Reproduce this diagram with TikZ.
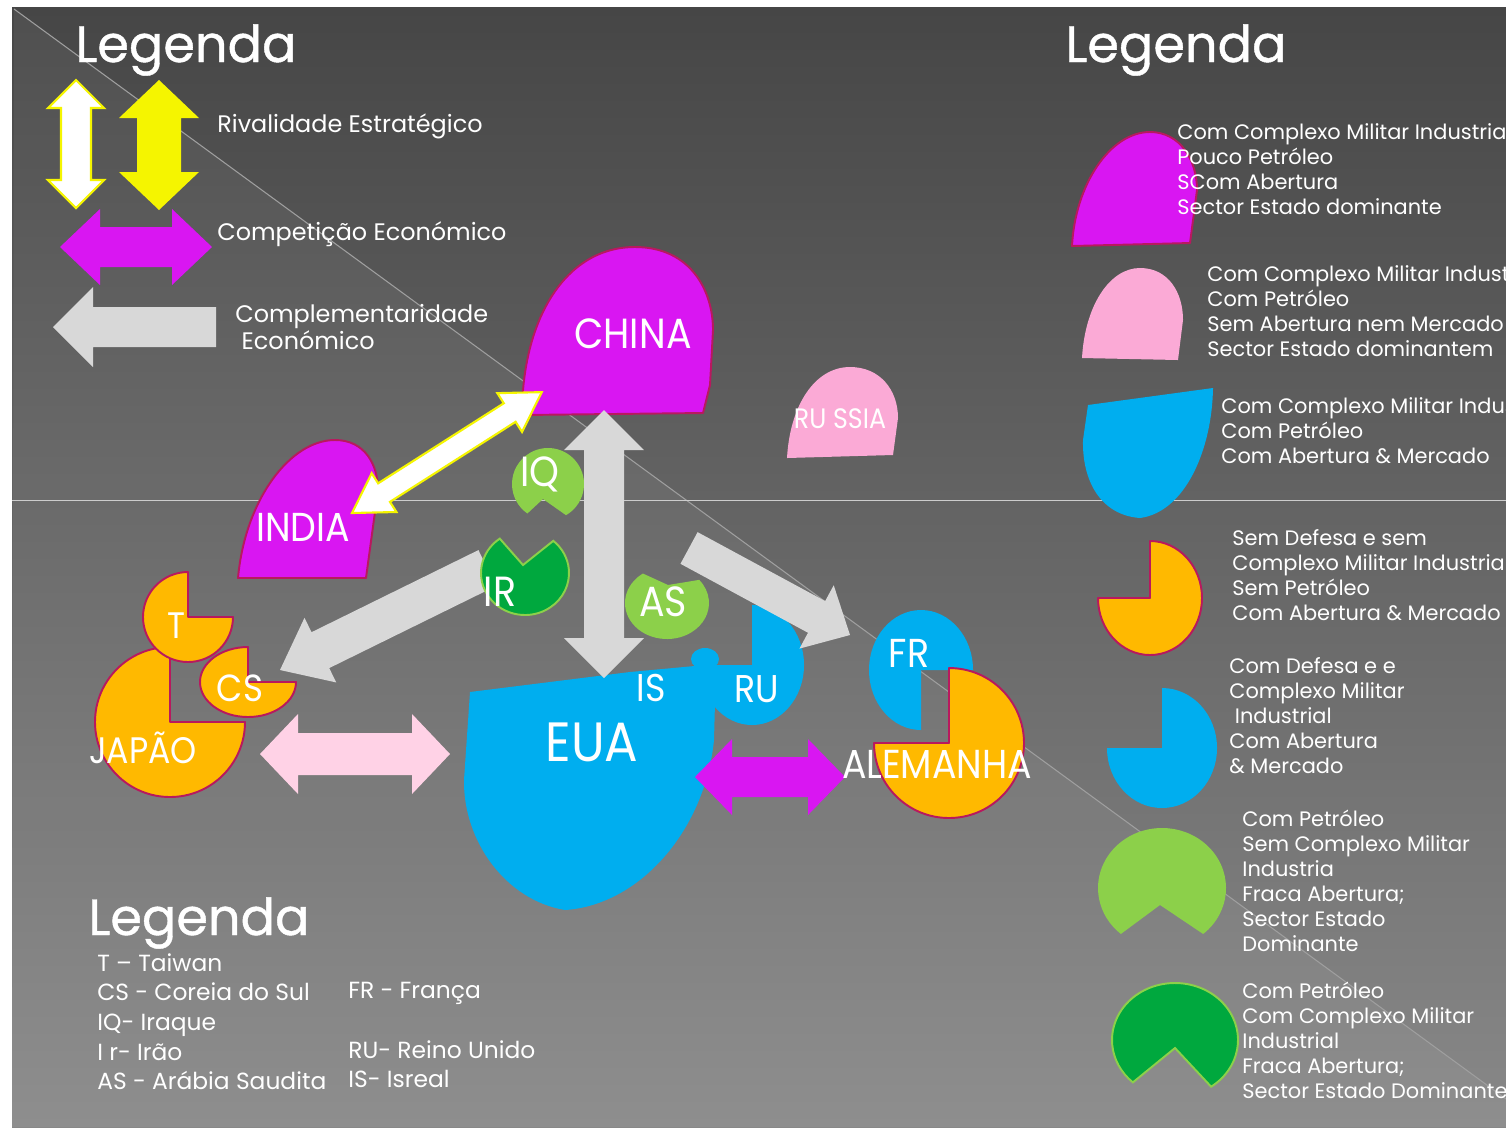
\documentclass[tikz,border=0pt]{standalone}
\usepackage{fontspec}
\setmainfont{Poppins}
\newfontfamily\lblfont[FakeStretch=0.9]{Poppins}
\newfontfamily\titlefont[FakeBold=0.8]{Poppins}
\usetikzlibrary{positioning}
\definecolor{bgtop}{HTML}{464646}
\definecolor{bgbot}{HTML}{888888}
\definecolor{mag}{HTML}{D916F2}
\definecolor{rim}{HTML}{B8195E}
\definecolor{rosa}{HTML}{FBAAD6}
\definecolor{azul}{HTML}{00AEEF}
\definecolor{laranja}{HTML}{FFB900}
\definecolor{verde}{HTML}{8CD04A}
\definecolor{verdesc}{HTML}{00A83E}
\definecolor{amarelo}{HTML}{F5F500}
\definecolor{cinza}{HTML}{D8D8D8}
\definecolor{rosaclaro}{HTML}{FFD2E6}
% block arrows: length, head length, half shaft, half head
\newcommand{\dupla}[4]{(0,0) -- (#2,#4) -- (#2,#3) -- ({#1-#2},#3) -- ({#1-#2},#4) -- (#1,0) -- ({#1-#2},-#4) -- ({#1-#2},-#3) -- (#2,-#3) -- (#2,-#4) -- cycle}
\newcommand{\simples}[4]{(0,0) -- (#2,#4) -- (#2,#3) -- (#1,#3) -- (#1,-#3) -- (#2,-#3) -- (#2,-#4) -- cycle}
\tikzset{
  pais/.style={fill=#1, draw=rim, line width=1.1pt, line join=round},
  liso/.style={fill=#1},
  titulo/.style={text=white, font=\titlefont\fontsize{29}{29}\selectfont, anchor=base west, inner sep=0},
  legtxt/.style={text=white, font=\fontsize{13.6}{15}\selectfont, anchor=base west, inner sep=0, align=left},
  chave/.style={text=white, font=\fontsize{11.9}{14.2}\selectfont, anchor=north west, inner sep=0, align=left},
  sigla/.style={text=white, font=\fontsize{13.3}{16.9}\selectfont, anchor=north west, inner sep=0, align=left},
  nome/.style={text=white, font=\lblfont\fontsize{#1}{#1}\selectfont, anchor=base, inner sep=0},
}
\begin{document}
\begin{tikzpicture}[x=0.02cm, y=0.02cm]
\useasboundingbox (0,0) rectangle (1506,-1127);
\clip (0,0) rectangle (1506,-1127);
\fill[white] (0,0) rectangle (1506,-1127);
\shade[top color=bgtop, bottom color=bgbot] (12,-7) rectangle (1506,-1127);
\fill[white, opacity=0.05] (14,-9) -- (1506,-1099) -- (1506,-1127) -- (12,-1127) -- cycle;
\draw[gray!75, line width=0.6pt] (14,-9) -- (1506,-1099);
\draw[gray!40!white, line width=0.5pt] (12,-500) -- (1506,-500);

% legenda das setas
\filldraw[fill=white, draw=amarelo, line width=1.2pt, shift={(76,-208)}, rotate=90] \dupla{128}{28}{15}{28};
\fill[amarelo, shift={(159,-210)}, rotate=90] \dupla{130}{38}{22}{40};
\fill[mag, shift={(60,-247)}] \dupla{152}{40}{20}{38};
\fill[cinza, shift={(53,-327)}] \simples{163}{40}{20}{40};
\node[titulo] (leg1) at (75,-62) {Legenda};
\node[legtxt] (rival) at (217,-132) {Rivalidade Estratégico};
\node[legtxt] (compet) at (217,-240) {Competição Económico};
\node[legtxt] (compl) at (235,-349) {Complementaridade\\\ Económico};

% legenda dos paises
\node[titulo] (leg2) at (1065,-62) {Legenda};
\filldraw[pais=mag] (1072,-246) .. controls (1075,-185) and (1110,-132) .. (1150,-132) .. controls (1180,-132) and (1197,-160) .. (1197,-190) -- (1190,-243) -- cycle;
\fill[liso=rosa] (1082,-358) .. controls (1085,-305) and (1110,-268) .. (1140,-268) .. controls (1168,-268) and (1183,-292) .. (1183,-320) -- (1178,-360) -- cycle;
\fill[liso=azul] (1088,-405) -- (1213,-388) .. controls (1212,-450) and (1185,-512) .. (1140,-518) .. controls (1100,-515) and (1082,-480) .. (1083,-440) -- cycle;
\filldraw[pais=laranja] (1150,-598) -- ++(180:52 and 57) arc[start angle=180, end angle=450, x radius=52, y radius=57] -- cycle;
\fill[liso=azul] (1162,-748) -- ++(180:55 and 60) arc[start angle=180, end angle=450, x radius=55, y radius=60] -- cycle;
\fill[liso=verde] (1162,-888) ++(310:64 and 60) arc[start angle=310, end angle=590, x radius=64, y radius=60] -- (1160,-905) -- cycle;
\filldraw[fill=verdesc, draw=verde, line width=1.1pt] (1175,-1040) ++(305:63 and 57) arc[start angle=305, end angle=588, x radius=63, y radius=57] -- (1175,-1048) -- cycle;
\node[chave] (k1) at (1177,-123) {Com Complexo Militar Industrial\\Pouco Petróleo\\SCom Abertura\\Sector Estado dominante};
\node[chave] (k2) at (1207,-265) {Com Complexo Militar Industrial\\Com Petróleo\\Sem Abertura nem Mercado\\Sector Estado dominantem};
\node[chave] (k3) at (1221,-397) {Com Complexo Militar Industrial\\Com Petróleo\\Com Abertura \& Mercado};
\node[chave] (k4) at (1232,-529) {Sem Defesa e sem\\Complexo Militar Industrial\\Sem Petróleo\\Com Abertura \& Mercado};
\node[chave] (k5) at (1229,-657) {Com Defesa e e\\Complexo Militar\\\ Industrial\\Com Abertura\\\& Mercado};
\node[chave] (k6) at (1242,-810) {Com Petróleo\\Sem Complexo Militar\\Industria\\Fraca Abertura;\\Sector Estado\\Dominante};
\node[chave] (k7) at (1242,-982) {Com Petróleo\\Com Complexo Militar\\Industrial\\Fraca Abertura;\\Sector Estado Dominante};

% siglas
\node[titulo] (leg3) at (88,-935) {Legenda};
\node[sigla] (s1) at (97,-953) {T – Taiwan\\CS - Coreia do Sul\\IQ- Iraque\\I r- Irão\\AS - Arábia Saudita};
\node[sigla] (s2) at (348,-982) {FR - França\\\mbox{}\\RU- Reino Unido\\IS- Isreal};

% mapa
\fill[cinza, shift={(280,-670)}, rotate=26.2] \simples{231}{45}{20}{36};
\filldraw[pais=mag] (522,-415) .. controls (522,-320) and (565,-247) .. (635,-247) .. controls (690,-247) and (713,-290) .. (713,-330) -- (710,-385) -- (703,-413) -- cycle;
\filldraw[pais=mag] (238,-578) .. controls (245,-500) and (290,-440) .. (335,-440) .. controls (365,-440) and (378,-465) .. (378,-490) -- (366,-578) -- cycle;
\fill[liso=rosa] (787,-458) .. controls (790,-405) and (815,-367) .. (850,-367) .. controls (880,-367) and (898,-390) .. (898,-418) -- (893,-455) -- cycle;
\fill[liso=verde] (548,-484) ++(300:36) arc[start angle=300, end angle=595, radius=36] -- (543,-499) -- cycle;
\filldraw[fill=verdesc, draw=verde, line width=1.1pt] (525,-573) ++(125:44 and 42) arc[start angle=125, end angle=410, x radius=44, y radius=42] -- (523,-565) -- cycle;
\fill[liso=verde] (667,-603) ++(125:42 and 36) arc[start angle=125, end angle=400, x radius=42, y radius=36] -- (668,-585) -- cycle;
\fill[liso=azul] (470,-692) -- (630,-672) -- (716,-664) -- (714,-740) .. controls (705,-830) and (640,-905) .. (565,-910) .. controls (505,-900) and (463,-840) .. (464,-780) -- cycle;
\fill[liso=azul] (705,-659) ellipse[x radius=14, y radius=11];
\fill[liso=azul] (752,-665) -- ++(180:52 and 60) arc[start angle=180, end angle=450, x radius=52, y radius=60] -- cycle;
\fill[liso=azul] (921,-670) -- ++(0:52 and 60) arc[start angle=0, end angle=270, x radius=52, y radius=60] -- cycle;
\filldraw[pais=laranja] (949,-743) -- ++(180:75) arc[start angle=180, end angle=450, radius=75] -- cycle;
\filldraw[pais=laranja] (170,-722) -- ++(90:75) arc[start angle=90, end angle=360, radius=75] -- cycle;
\filldraw[pais=laranja] (188,-617) -- ++(90:45) arc[start angle=90, end angle=360, radius=45] -- cycle;
\filldraw[pais=laranja] (248,-682) -- ++(90:48 and 35) arc[start angle=90, end angle=360, x radius=48, y radius=35] -- cycle;

% setas do mapa
\fill[cinza, shift={(604,-678)}, rotate=90] \dupla{268}{40}{20}{40};
\fill[cinza, shift={(850,-635)}, rotate=151.6] \simples{183}{38}{18}{36};
\filldraw[fill=white, draw=amarelo, line width=1.2pt, shift={(352,-513)}, rotate=32.5] \dupla{225}{38}{11}{23};
\fill[rosaclaro, shift={(260,-754)}] \dupla{190}{38}{21}{40};
\fill[mag, shift={(695,-777)}] \dupla{150}{37}{20}{38};

% nomes
\node[nome=24] (china) at (633,-348) {CHINA};
\node[nome=23] (india) at (303,-541) {INDIA};
\node[nome=16] (russia) at (840,-428) {RU SSIA};
\node[nome=24] (iq) at (540,-486) {IQ};
\node[nome=24] (ir) at (500,-606) {IR};
\node[nome=24] (as) at (663,-616) {AS};
\node[nome=22] (is) at (651,-701) {IS};
\node[nome=22] (ru) at (757,-702) {RU};
\node[nome=31.5] (eua) at (592,-761) {EUA};
\node[nome=23] (fr) at (909,-667) {FR};
\node[nome=23] (alemanha) at (937,-778) {ALEMANHA};
\node[nome=21] (japao) at (143,-763) {JAPÃO};
\node[nome=21] (taiwan) at (176,-638) {T};
\node[nome=21.5] (coreia) at (240,-701) {CS};
\end{tikzpicture}
\end{document}
